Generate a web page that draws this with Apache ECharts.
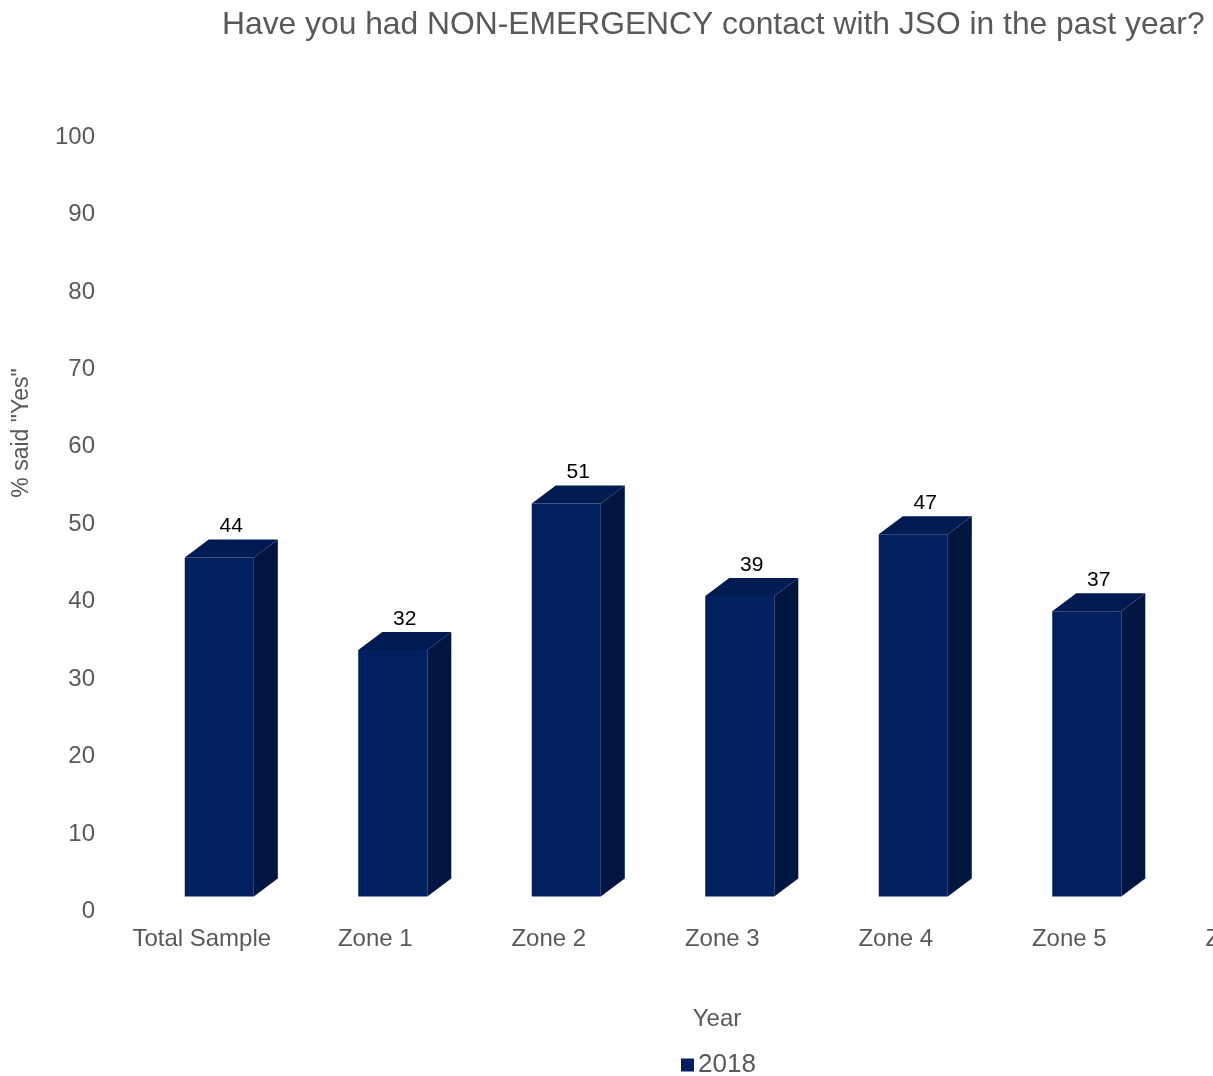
<!DOCTYPE html>
<html>
<head>
<meta charset="utf-8">
<script src="https://cdn.jsdelivr.net/npm/echarts@6/dist/echarts.min.js"></script>
<style>
html,body{margin:0;padding:0;overflow:hidden;background:#fff;}
#chart{width:1430px;height:1076px;}
</style>
</head>
<body>
<div id="chart"></div>
<script>
const categories = ['Total Sample', 'Zone 1', 'Zone 2', 'Zone 3', 'Zone 4', 'Zone 5', 'Zone 6'];
const values2018 = [44, 32, 51, 39, 47, 37, null];
const yTicks = [0, 10, 20, 30, 40, 50, 60, 70, 80, 90, 100];
const seriesName = '2018';

const FONT = '"Liberation Sans", Arial, sans-serif';
const GREY = '#595959';
const FRONT = '#002060';
const SIDE = '#001640';
const TOP = '#001b52';

const chart = echarts.init(document.getElementById('chart'), null, {renderer: 'canvas'});

const data = values2018.map((v, i) => [i, v]);

chart.setOption({
  animation: false,
  title: {
    text: 'Have you had NON-EMERGENCY contact with JSO in the past year?',
    left: 217, top: 4,
    textStyle: {fontFamily: FONT, fontSize: 31.8, fontWeight: 'normal', color: GREY}
  },
  legend: {
    left: 676, top: 1047,
    itemWidth: 13, itemHeight: 13, itemGap: 6,
    icon: 'rect',
    data: [seriesName],
    textStyle: {fontFamily: FONT, fontSize: 26, color: GREY, padding: [0,0,0,-1]}
  },
  grid: {left: 115, top: 137, width: 1214.5, height: 774.5, containLabel: false},
  xAxis: {
    type: 'category',
    data: categories,
    axisLine: {show: false},
    axisTick: {show: false},
    axisLabel: {fontFamily: FONT, fontSize: 24, color: GREY, margin: 16, interval: 0}
  },
  yAxis: {
    type: 'value',
    min: yTicks[0], max: yTicks[yTicks.length - 1], interval: 10,
    axisLine: {show: false},
    axisTick: {show: false},
    splitLine: {show: false},
    axisLabel: {fontFamily: FONT, fontSize: 24, color: GREY, margin: 20}
  },
  graphic: [
    {type: 'text', x: 22, y: 433, rotation: Math.PI / 2,
     style: {text: '% said "Yes"', font: '23px ' + FONT, fill: GREY, align: 'center', verticalAlign: 'middle'}},
    {type: 'text', x: 717, y: 1019,
     style: {text: 'Year', font: '24px ' + FONT, fill: GREY, align: 'center', verticalAlign: 'middle'}}
  ],
  series: [{
    name: seriesName,
    type: 'custom',
    data: data,
    encode: {x: 0, y: 1},
    itemStyle: {color: FRONT},
    renderItem: function (params, api) {
      const v = api.value(1);
      if (v == null || isNaN(v)) return null;
      const idx = api.value(0);
      const p = api.coord([idx, v]);
      const p0 = api.coord([idx, 0]);
      const band = api.size([1, 0])[0];
      const lift = 15, dx = 24, dy = 18;
      const x0 = p[0] - band * 0.098;
      const w = band * 0.398;
      const yBot = p0[1] - lift;
      const yTop = yBot - (p0[1] - p[1]) * 0.995;
      return {
        type: 'group',
        children: [
          {type: 'rect', shape: {x: x0, y: yTop, width: w, height: yBot - yTop}, style: {fill: FRONT}},
          {type: 'polygon', shape: {points: [[x0 + w, yTop], [x0 + w + dx, yTop - dy], [x0 + w + dx, yBot - dy], [x0 + w, yBot]]}, style: {fill: SIDE}},
          {type: 'polygon', shape: {points: [[x0, yTop], [x0 + dx, yTop - dy], [x0 + w + dx, yTop - dy], [x0 + w, yTop]]}, style: {fill: TOP}},
          {type: 'text', x: x0 + (w + dx) / 2, y: yTop - dy - 13,
           style: {text: String(v), font: '21px ' + FONT, fill: '#000', align: 'center', verticalAlign: 'middle'}}
        ]
      };
    }
  }]
});
</script>
</body>
</html>
